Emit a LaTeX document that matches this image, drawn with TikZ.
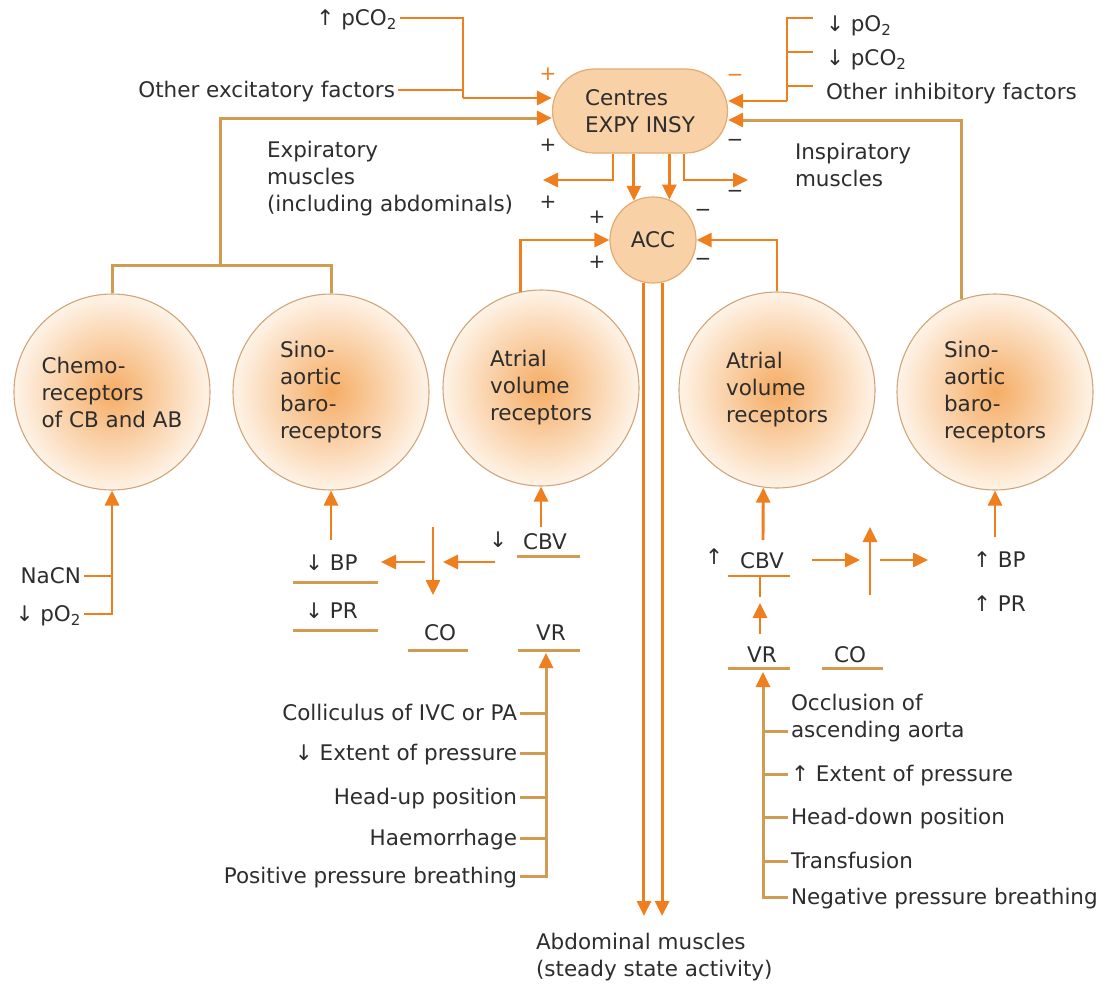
\documentclass[tikz,border=0pt]{standalone}
\usepackage{fontspec}
\setmainfont{DejaVu Sans}
\usetikzlibrary{arrows.meta,shapes.misc}
\definecolor{lineor}{RGB}{239,126,30}
\definecolor{linetan}{RGB}{208,156,82}
\definecolor{txt}{RGB}{45,45,45}
\definecolor{boxfill}{RGB}{249,209,166}
\definecolor{boxedge}{RGB}{228,170,112}
\definecolor{blobin}{RGB}{245,172,100}
\definecolor{blobout}{RGB}{254,243,231}
\definecolor{blobedge}{RGB}{210,165,120}
\begin{document}
\begin{tikzpicture}[x=1pt,y=-1pt,
  lbl/.style={text=txt,font=\fontsize{21.5}{27}\selectfont,inner sep=0pt,outer sep=3pt,text height=17pt,text depth=3pt},
  blk/.style={text=txt,font=\fontsize{21.5}{27}\selectfont,inner sep=0pt,outer sep=3pt,align=left},
  sgn/.style={text=txt,font=\fontsize{20}{20}\selectfont,inner sep=0pt},
  sgnor/.style={sgn,text=lineor},
  oline/.style={draw=lineor,line width=2.9pt},
  tline/.style={draw=linetan,line width=3pt},
  arrO/.style={-{Triangle[length=15pt,width=14pt,color=lineor]}},
  receptor/.style={circle,minimum size=196pt,inner sep=0pt,draw=blobedge,line width=1.1pt,
    inner color=blobin,outer color=blobout,text=txt,align=left,font=\fontsize{21.5}{27}\selectfont},
  hub/.style={fill=boxfill,draw=boxedge,line width=1.2pt,text=txt,align=left,font=\fontsize{21.5}{27}\selectfont}
]
\useasboundingbox (0,0) rectangle (1107,983);

% ---------- central nodes ----------
\node[hub,rounded rectangle,minimum width=175pt,minimum height=84pt,inner xsep=0pt] (centres) at (640,111) {Centres\\EXPY INSY};
\node[hub,circle,minimum size=86pt,inner sep=0pt] (acc) at (653,240) {ACC};

% ---------- receptors ----------
\node[receptor] (chemo) at (112,392) {Chemo-\\receptors\\of CB and AB};
\node[receptor] (sinoL) at (331,392) {Sino-\\aortic\\baro-\\receptors};
\node[receptor] (atrL) at (541,388) {Atrial\\volume\\receptors};
\node[receptor] (atrR) at (777,390) {Atrial\\volume\\receptors};
\node[receptor] (sinoR) at (995,392) {Sino-\\aortic\\baro-\\receptors};

% ---------- top inputs ----------
\node[lbl,anchor=east] (pco2) at (400,18) {↑ pCO\textsubscript{2}};
\node[lbl,anchor=east] (exc) at (398,90) {Other excitatory factors};
\node[lbl,anchor=west] (po2a) at (823,24) {↓ pO\textsubscript{2}};
\node[lbl,anchor=west] (pco2a) at (823,58) {↓ pCO\textsubscript{2}};
\node[lbl,anchor=west] (inh) at (823,92) {Other inhibitory factors};

\coordinate (pcoK) at (463,18);
\coordinate (excK) at (463,98);
\draw[oline] (pco2.east) -- (pcoK) -- (excK);
\draw[oline] (exc.east) -- (exc.east -| excK);
\draw[oline,arrO] (excK) -- (excK -| centres.west);

\coordinate (inhK) at (787,101);
\coordinate (tkA) at ([xshift=-10pt,yshift=6pt]po2a.west);
\coordinate (tkB) at ([xshift=-10pt,yshift=6pt]pco2a.west);
\coordinate (tkC) at ([xshift=-10pt,yshift=6pt]inh.west);
\draw[oline] (tkA) -| (inhK);
\draw[oline] (tkB) -- (tkB -| inhK);
\draw[oline] (tkC) -- (tkC -| inhK);
\draw[oline,arrO] (inhK) -- (inhK -| centres.east);

% ---------- signs ----------
\node[sgnor] (s1) at (548,74) {+};
\node[sgnor] (s2) at (735,78) {−};
\node[sgn] (s3) at (548,145) {+};
\node[sgn] (s4) at (735,143) {−};
\node[sgn] (s5) at (735,194) {−};
\node[sgn] (s6) at (548,202) {+};
\node[sgn] (s7) at (597,217) {+};
\node[sgn] (s8) at (597,262) {+};
\node[sgn] (s9) at (703,213) {−};
\node[sgn] (s10) at (703,262) {−};

% ---------- muscles ----------
\node[blk,anchor=west] (expm) at (264,179) {Expiratory\\muscles\\(including abdominals)};
\node[blk,anchor=west] (insm) at (792,165) {Inspiratory\\muscles};
\coordinate (expK) at (543,180);
\coordinate (insK) at (748,180);
\draw[oline,arrO] ([xshift=-27pt]centres.south) |- (expK);
\draw[oline,arrO] ([xshift=44pt]centres.south) |- (insK);
\draw[oline,arrO] (centres.south -| acc.116) -- (acc.116);
\draw[oline,arrO] (centres.south -| acc.68) -- (acc.68);

% ---------- feedback to the centres ----------
\coordinate (jL) at (220,265);
\coordinate (fL) at (220,118);
\draw[tline] (chemo.north) |- (jL) -| (sinoL.north);
\draw[tline,arrO] (jL) -- (fL) -- (fL -| centres.west);
\coordinate (fR) at (962,120);
\draw[tline,arrO] (sinoR.110) -- (sinoR.110 |- fR) -- (fR -| centres.east);

% ---------- feedback to ACC ----------
\draw[oline,arrO] (atrL.102) |- (acc.west);
\draw[oline,arrO] (atrR.north) |- (acc.east);

% ---------- ACC output ----------
\node[blk,anchor=north west] (abd) at (533,930) {Abdominal muscles\\(steady state activity)};
\coordinate (abdTip) at (653,916);
\draw[oline,arrO] (acc.258) -- (acc.258 |- abdTip);
\draw[oline,arrO] (acc.282) -- (acc.282 |- abdTip);

% ---------- chemoreceptor inputs ----------
\node[lbl,anchor=east] (nacn) at (84,576) {NaCN};
\node[lbl,anchor=east] (po2b) at (84,614) {↓ pO\textsubscript{2}};
\draw[oline] (nacn.east) -- (nacn.east -| chemo.south);
\draw[oline,arrO] (po2b.east) -| (chemo.south);

% ---------- fall in central blood volume ----------
\node[lbl,anchor=west] (bpl) at (302,563) {↓ BP};
\node[lbl,anchor=west] (prl) at (302,611) {↓ PR};
\draw[tline] (293,582) -- (378,582);
\draw[tline] (293,630) -- (378,630);
\coordinate (bpUp) at (331,540);
\draw[oline,arrO] (bpUp) -- (sinoL.south);

\node[lbl] (dn1) at (498,540) {↓};
\node[lbl,anchor=west] (cbvl) at (520,542) {CBV};
\draw[tline] (517,556) -- (580,556);
\coordinate (cbvUp) at (541,527);
\draw[oline,arrO] (cbvUp) -- (atrL.south);

\coordinate (xa1) at (495,562); \coordinate (xa2) at (443,562);
\coordinate (xv1) at (433,527); \coordinate (xv2) at (433,595);
\coordinate (xb1) at (425,562); \coordinate (xb2) at (381,562);
\draw[oline,arrO] (xa1) -- (xa2);
\draw[oline,arrO] (xv1) -- (xv2);
\draw[oline,arrO] (xb1) -- (xb2);

\node[lbl] (col) at (440,633) {CO};
\node[lbl] (vrl) at (551,633) {VR};
\draw[tline] (408,650) -- (468,650);
\draw[tline] (518,650) -- (580,650);

\node[lbl,anchor=east] (c1) at (520,713) {Colliculus of IVC or PA};
\node[lbl,anchor=east] (c2) at (520,753) {↓ Extent of pressure};
\node[lbl,anchor=east] (c3) at (520,797) {Head-up position};
\node[lbl,anchor=east] (c4) at (520,838) {Haemorrhage};
\node[lbl,anchor=east] (c5) at (520,876) {Positive pressure breathing};
\coordinate (vlTop) at (546,653);
\draw[tline,arrO] (c5.east) -| (vlTop);
\draw[tline] (c1.east) -- (c1.east -| vlTop);
\draw[tline] (c2.east) -- (c2.east -| vlTop);
\draw[tline] (c3.east) -- (c3.east -| vlTop);
\draw[tline] (c4.east) -- (c4.east -| vlTop);

% ---------- rise in central blood volume ----------
\node[lbl] (up1) at (714,557) {↑};
\node[lbl] (cbvr) at (762,561) {CBV};
\draw[oline] (728,576) -- (790,576);
\draw[oline] (760,576) -- (760,597);
\coordinate (vrUpA) at (760,634); \coordinate (vrUpB) at (760,603);
\draw[oline,arrO] (vrUpA) -- (vrUpB);
\coordinate (cbvrUp) at (763,540);
\draw[oline,arrO] (cbvrUp) -- (atrR.262);

\coordinate (ya1) at (812,560); \coordinate (ya2) at (860,560);
\coordinate (yv1) at (870,595); \coordinate (yv2) at (870,527);
\coordinate (yb1) at (880,560); \coordinate (yb2) at (928,560);
\draw[oline,arrO] (ya1) -- (ya2);
\draw[oline,arrO] (yv1) -- (yv2);
\draw[oline,arrO] (yb1) -- (yb2);

\node[lbl,anchor=west] (bpr) at (970,560) {↑ BP};
\node[lbl,anchor=west] (prr) at (970,604) {↑ PR};
\coordinate (bprUp) at (995,537);
\draw[oline,arrO] (bprUp) -- (sinoR.south);

\node[lbl] (vrr) at (762,655) {VR};
\node[lbl] (cor) at (850,655) {CO};
\draw[tline] (728,668) -- (790,668);
\draw[tline] (822,668) -- (883,668);

\node[blk,anchor=west] (o1) at (788,718) {Occlusion of\\ascending aorta};
\node[lbl,anchor=west] (o2) at (788,774) {↑ Extent of pressure};
\node[lbl,anchor=west] (o3) at (788,817) {Head-down position};
\node[lbl,anchor=west] (o4) at (788,861) {Transfusion};
\node[lbl,anchor=west] (o5) at (788,897) {Negative pressure breathing};
\coordinate (vrTop) at (763,672);
\coordinate (tk1) at (763,731);
\draw[tline,arrO] (o5.west) -| (vrTop);
\draw[tline] (tk1) -- (tk1 -| o1.west);
\draw[tline] (o2.west) -- (o2.west -| vrTop);
\draw[tline] (o3.west) -- (o3.west -| vrTop);
\draw[tline] (o4.west) -- (o4.west -| vrTop);
\end{tikzpicture}
\end{document}
